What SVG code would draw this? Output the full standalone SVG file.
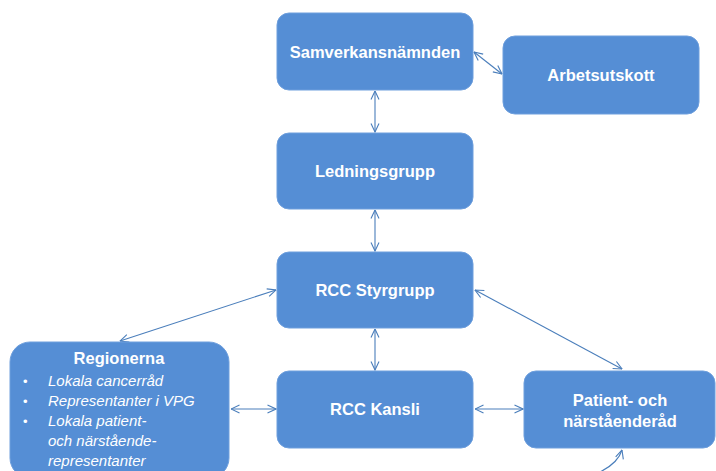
<svg xmlns="http://www.w3.org/2000/svg" width="716" height="471" viewBox="0 0 716 471">
<style>
.box{fill:#558ED5;stroke:#6E9FDD;stroke-width:1}
.t{font-family:"Liberation Sans",Arial,sans-serif;font-weight:bold;font-size:16.5px;fill:#FFFFFF;text-anchor:middle}
.i{font-family:"Liberation Sans",Arial,sans-serif;font-style:italic;font-size:15px;fill:#FFFFFF}
.b{font-family:"Liberation Sans",Arial,sans-serif;font-size:13px;fill:#FFFFFF}
.c{fill:none;stroke:#4A7EBB;stroke-width:1.1}
</style>
<defs>
<marker id="ah" viewBox="0 0 10 10" refX="9.5" refY="5" markerWidth="10" markerHeight="10" markerUnits="userSpaceOnUse" orient="auto-start-reverse">
<path d="M1,1 L9.5,5 L1,9" fill="none" stroke="#4A7EBB" stroke-width="1.1"/>
</marker>
</defs>
<rect width="716" height="471" fill="#FFFFFF"/>
<g id="connectors">
<line class="c" x1="375" y1="91" x2="375" y2="132" marker-start="url(#ah)" marker-end="url(#ah)"/>
<line class="c" x1="474" y1="52" x2="502" y2="74" marker-start="url(#ah)" marker-end="url(#ah)"/>
<line class="c" x1="375" y1="210" x2="375" y2="251" marker-start="url(#ah)" marker-end="url(#ah)"/>
<line class="c" x1="375" y1="329" x2="375" y2="370" marker-start="url(#ah)" marker-end="url(#ah)"/>
<line class="c" x1="120" y1="341" x2="276" y2="290" marker-start="url(#ah)" marker-end="url(#ah)"/>
<line class="c" x1="475" y1="290" x2="622" y2="369" marker-start="url(#ah)" marker-end="url(#ah)"/>
<line class="c" x1="231" y1="409" x2="276" y2="409" marker-start="url(#ah)" marker-end="url(#ah)"/>
<line class="c" x1="475" y1="409" x2="523" y2="409" marker-start="url(#ah)" marker-end="url(#ah)"/>
<path class="c" d="M600,472 Q618,463 622,450" marker-end="url(#ah)"/>
</g>
<g id="samverkansnamnden">
<rect class="box" x="277" y="13" width="196" height="77" rx="12"/>
<text class="t" x="375" y="58">Samverkansnämnden</text>
</g>
<g id="arbetsutskott">
<rect class="box" x="503" y="36" width="196" height="78" rx="12"/>
<text class="t" x="601" y="81">Arbetsutskott</text>
</g>
<g id="ledningsgrupp">
<rect class="box" x="277" y="133" width="196" height="76" rx="12"/>
<text class="t" x="375" y="177">Ledningsgrupp</text>
</g>
<g id="rcc-styrgrupp">
<rect class="box" x="277" y="252" width="196" height="76" rx="12"/>
<text class="t" x="375" y="296">RCC Styrgrupp</text>
</g>
<g id="rcc-kansli">
<rect class="box" x="277" y="371" width="196" height="77" rx="12"/>
<text class="t" x="375" y="415">RCC Kansli</text>
</g>
<g id="patient">
<rect class="box" x="524" y="371" width="191" height="77" rx="12"/>
<text class="t" x="620" y="406">Patient- och</text>
<text class="t" x="620" y="427">närståenderåd</text>
</g>
<g id="regionerna">
<rect class="box" x="10" y="342" width="219" height="136" rx="20"/>
<text class="t" x="119" y="364">Regionerna</text>
<text class="b" x="23" y="386">•</text>
<text class="b" x="23" y="406">•</text>
<text class="b" x="23" y="426">•</text>
<text class="i" x="48" y="386">Lokala cancerråd</text>
<text class="i" x="48" y="406">Representanter i VPG</text>
<text class="i" x="48" y="426">Lokala patient-</text>
<text class="i" x="48" y="446">och närstående-</text>
<text class="i" x="48" y="466">representanter</text>
</g>
</svg>
